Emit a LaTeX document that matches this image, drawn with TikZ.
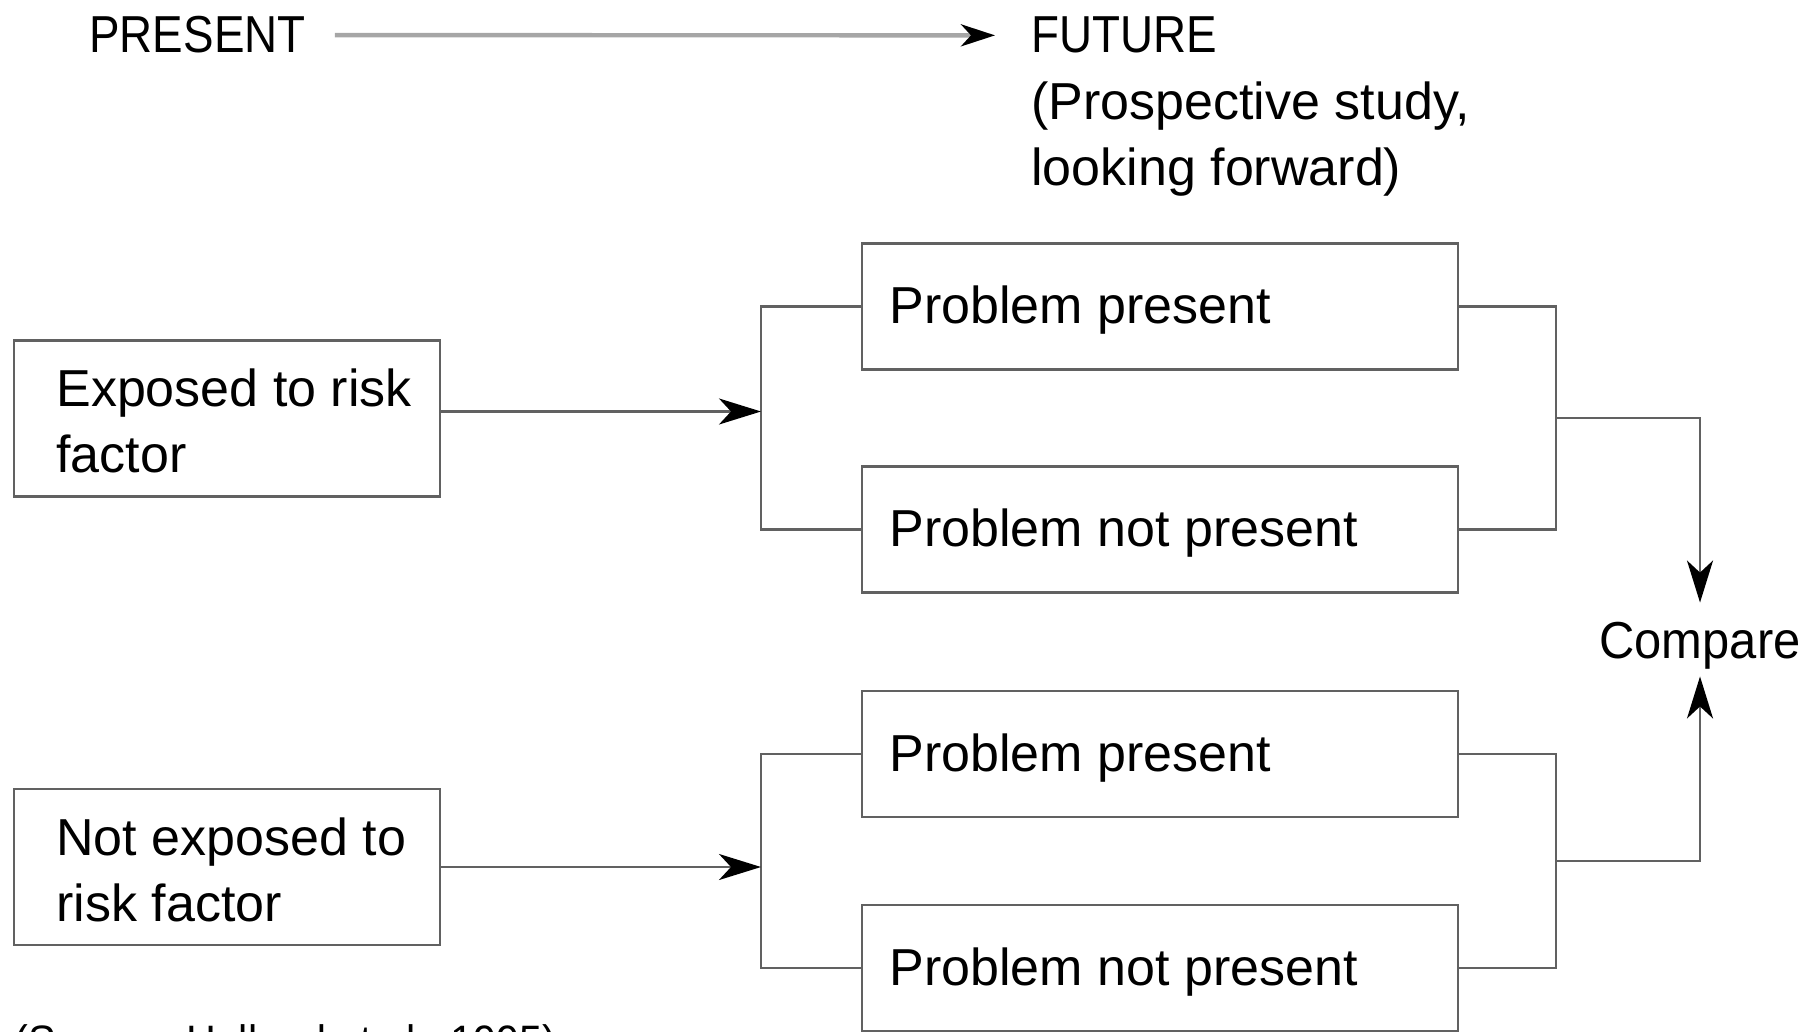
\documentclass[tikz,border=0pt]{standalone}
\usepackage{fontspec}
\setmainfont{Liberation Sans}
\newfontfamily\capsfont{Liberation Sans}[FakeStretch=0.88]
\newfontfamily\narrowfont{Liberation Sans}[FakeStretch=0.94]
\usetikzlibrary{arrows.meta,calc}

\begin{document}
\begin{tikzpicture}[x=0.5pt,y=-0.5pt,
  lbl/.style={inner sep=0pt, font=\fontsize{26pt}{33pt}\selectfont, text=black},
  caplbl/.style={lbl, font=\capsfont\fontsize{26pt}{33pt}\selectfont},
  srcnote/.style={inner sep=0pt, font=\narrowfont\fontsize{22pt}{28pt}\selectfont, text=black},
  riskbox/.style={draw=black!62, line width=1.3pt, minimum width=213pt, minimum height=78pt, inner sep=0pt},
  probbox/.style={draw=black!62, line width=1.3pt, minimum width=298pt, minimum height=63pt, inner sep=0pt},
  wire/.style={draw=black!62, line width=1.3pt},
  tip/.style={-{Stealth[length=21pt, width=13pt, inset=6pt, color=black]}},
  timeline/.style={draw=black!35, line width=2.2pt, -{Stealth[length=17pt, width=11pt, inset=5pt, color=black]}}
]
\useasboundingbox (0,0) rectangle (1814,1032);
\clip (0,0) rectangle (1814,1032);

% time axis
\node[caplbl, anchor=base west] (pres) at (89,53) {PRESENT};
\node[caplbl, anchor=base west] (fut) at (1031,53) {FUTURE};
\node[lbl, anchor=base west, align=left] (futnote) at (1031,186) {(Prospective study,\\looking forward)};
\draw[timeline] ([xshift=14.5pt]pres.east) -- ([xshift=-18pt]fut.west);

% exposure groups
\node[riskbox] (exp) at (227,418.5) {};
\node[lbl, anchor=west, align=left] (exptxt) at (56,421) {Exposed to risk\\factor};
\node[riskbox] (nexp) at (227,867) {};
\node[lbl, anchor=west, align=left] (nexptxt) at (56,869.5) {Not exposed to\\risk factor};

% outcomes
\node[probbox] (pp1) at (1160,306.5) {};
\node[lbl, anchor=base west] (pp1txt) at (889,323.5) {Problem present};
\node[probbox] (pn1) at (1160,529.5) {};
\node[lbl, anchor=base west] (pn1txt) at (889,546.5) {Problem not present};
\node[probbox] (pp2) at (1160,754) {};
\node[lbl, anchor=base west] (pp2txt) at (889,771) {Problem present};
\node[probbox] (pn2) at (1160,968) {};
\node[lbl, anchor=base west] (pn2txt) at (889,985) {Problem not present};

\node[lbl, font=\narrowfont\fontsize{26pt}{33pt}\selectfont] (cmp) at (1700,645.5) {Compare};
\node[srcnote, anchor=base west] (src) at (14,1056) {(Source: Holland et al., 1995)};

% branch brackets
\coordinate (lb) at (761,0);
\coordinate (rb) at (1556,0);
\draw[wire] (pp1.west) -- (pp1.west -| lb) -- (pn1.west -| lb) -- (pn1.west);
\draw[wire] (pp2.west) -- (pp2.west -| lb) -- (pn2.west -| lb) -- (pn2.west);
\draw[wire, tip] ([yshift=3.5pt]exp.east) -- ([yshift=3.5pt]exp.east -| lb);
\draw[wire, tip] (nexp.east) -- (nexp.east -| lb);

\draw[wire] (pp1.east) -- (pp1.east -| rb) -- (pn1.east -| rb) -- (pn1.east);
\draw[wire] (pp2.east) -- (pp2.east -| rb) -- (pn2.east -| rb) -- (pn2.east);
\coordinate (m1) at ($(pp1.east -| rb)!0.5!(pn1.east -| rb)$);
\coordinate (m2) at ($(pp2.east -| rb)!0.5!(pn2.east -| rb)$);
\draw[wire, tip] (m1) -| ([yshift=9.5pt]cmp.north);
\draw[wire, tip] (m2) -| ([yshift=-3.5pt]cmp.south);
\end{tikzpicture}
\end{document}
